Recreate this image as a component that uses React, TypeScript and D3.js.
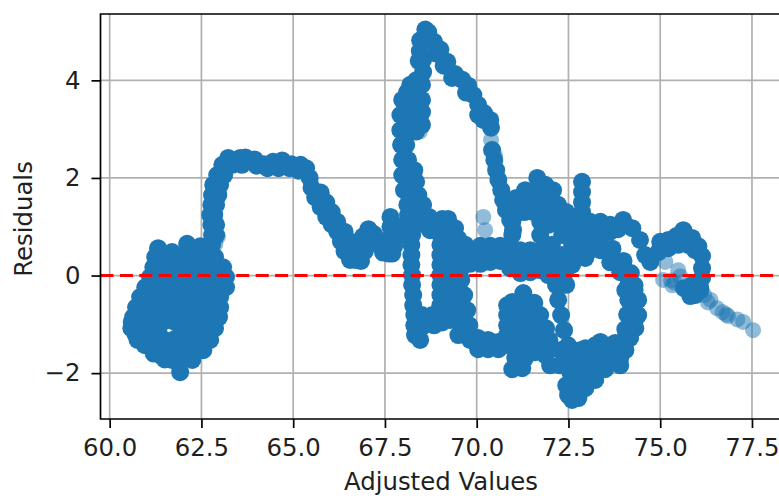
import React, { useEffect, useRef } from 'react';
import * as d3 from 'd3';

type Pt = [number, number];

const xTicks = [60, 62.5, 65, 67.5, 70, 72.5, 75, 77.5];
const yTicks = [-2, 0, 2, 4];

// left blob, read row by row
const blob: Pt[] = [
  [61.32,.56],[61.70,.48],[62.11,.65],[62.47,.6],
  [61.24,.38],[61.51,.38],[61.78,.38],[62.06,.38],[62.33,.38],[62.6,.38],[62.87,.38],
  [61.19,.17],[61.46,.17],[61.73,.17],[62.0,.17],[62.27,.17],[62.55,.17],[62.82,.17],[63.09,.17],
  [61.1,-.03],[61.38,-.03],[61.65,-.03],[61.92,-.03],[62.19,-.03],[62.47,-.03],[62.74,-.03],[63.01,-.03],[63.17,-.03],
  [60.97,-.24],[61.24,-.24],[61.51,-.24],[61.78,-.24],[62.06,-.24],[62.33,-.24],[62.6,-.24],[62.87,-.24],[63.17,-.24],
  [60.83,-.44],[61.1,-.44],[61.38,-.44],[61.65,-.44],[62.25,-.44],[62.47,-.44],[62.74,-.44],[63.01,-.44],
  [60.72,-.65],[60.99,-.65],[61.27,-.65],[61.5,-.65],[61.65,-.56],[62.25,-.56],[62.52,-.65],[62.79,-.65],[63.01,-.65],
  [60.64,-.85],[60.91,-.85],[61.19,-.85],[61.4,-.85],[61.62,-.82],[61.85,-.9],[61.95,-.85],[62.22,-.85],[62.49,-.85],[62.77,-.85],[62.98,-.85],
  [60.59,-1.08],[60.91,-1.08],[61.32,-1.12],[61.98,-1.12],[62.19,-1.08],[62.47,-1.08],[62.74,-1.08],[62.87,-1.08],
  [60.76,-1.32],[61.03,-1.32],[61.3,-1.32],[61.62,-1.45],[61.95,-1.32],[62.22,-1.32],[62.49,-1.32],[62.74,-1.32],
  [61.0,-1.43],[61.24,-1.53],[61.51,-1.53],[61.78,-1.53],[62.06,-1.53],[62.33,-1.53],[62.55,-1.53],
  [61.38,-1.63],[61.7,-1.73],[61.97,-1.73],[62.25,-1.73],[61.92,-1.98],
  [61.78,-.95],[61.78,-1.3],[61.45,-1.3],[61.45,-.95],[61.95,-1.0],[61.15,-1.0],[61.15,-1.2],
  [60.6,-.95],[60.7,-1.2],[60.95,-1.42],[61.2,-1.6],[61.5,-1.72],[62.0,-.55],[61.85,-.6],[61.9,-.45],
];

const stem: Pt[] = [
  [62.74,.42],[62.79,.63],[62.79,.83],[62.77,1.04],[62.9,.83],[62.9,1.04],
  [62.74,1.24],[62.85,1.24],[62.77,1.45],[62.9,1.45],[62.79,1.65],[62.96,1.65],
  [62.82,1.86],[63.01,1.86],[62.93,2.06],[63.12,2.06],[63.07,2.27],[63.34,2.27],[63.23,2.41],[63.56,2.41],
  [63.7,2.42],[63.95,2.38],[64.2,2.28],[64.45,2.33],[64.7,2.36],[64.95,2.28],[65.2,2.27],[65.35,2.2],
  [63.6,2.27],[64.0,2.25],[64.3,2.2],[64.6,2.2],[64.9,2.2],[65.15,2.15],
  [65.45,2.0],[65.5,1.8],[65.6,1.6],[65.75,1.4],[65.9,1.2],[66.05,1.05],[66.2,.9],[66.3,.7],[66.4,.5],
  [65.75,1.7],[65.9,1.5],[66.05,1.3],[66.2,1.1],[66.4,.9],[66.55,.7],[66.65,.45],[66.85,.3],
  [66.55,.32],[66.7,.32],[66.8,.55],[66.9,.8],[67.05,.95],[67.2,.85],[67.3,.65],[67.45,.47],[67.6,.45],
  [67.1,.7],[66.95,.5],
  [67.75,.6],[67.85,.8],[67.9,1.0],[67.65,1.2],[67.65,1.0],[67.65,.8],[67.65,.6],[67.7,.45],
];

// tall column up to the peak and back down the right side
const peak: Pt[] = [
  [68.6,5.04],[68.46,4.82],[68.45,4.6],[68.42,4.4],[68.54,4.42],[68.54,4.17],[68.51,3.91],[68.51,3.6],[68.51,3.35],[68.51,3.09],
  [68.19,3.91],[67.97,3.6],[67.92,3.29],[67.92,2.98],[67.94,2.68],[67.97,2.37],[67.97,2.06],[68.02,1.75],[68.11,1.45],
  [68.24,3.6],[68.24,3.29],[68.19,2.98],[68.08,2.68],[68.13,2.37],[68.3,2.16],[68.35,1.92],[68.41,1.65],[68.54,1.45],[68.32,1.24],[68.13,1.24],
  [68.24,1.9],[68.2,1.6],[68.3,1.4],[68.35,3.75],[68.35,4.0],
  [68.1,3.75],[68.1,3.45],[68.05,3.1],[68.05,2.85],[68.2,3.45],[68.35,3.45],[68.35,3.2],[68.35,2.95],[68.1,2.2],[68.1,1.95],
  [68.68,4.99],[68.84,4.79],[69.01,4.63],[69.2,4.38],[69.41,4.13],[69.61,4.01],[69.77,3.89],[69.91,3.7],[70.04,3.5],[70.2,3.33],[70.37,3.19],[70.39,3.03],
  [68.9,4.55],[69.1,4.3],[69.33,4.05],[69.71,3.75],[70.04,3.29],[70.18,3.19],
  [70.42,2.57],[70.48,2.37],[70.53,2.16],[70.59,1.96],[70.67,1.75],[70.72,1.55],[70.8,1.34],[70.91,1.14],[70.99,.93],
];

const lowerMiddle: Pt[] = [
  [68.32,1.04],[68.6,1.04],[68.73,.93],[68.24,.83],[68.22,.63],[68.22,.42],[68.22,.22],[68.24,.01],[68.24,-.19],[68.27,-.4],[68.27,-.61],[68.3,-.81],[68.3,-1.02],[68.32,-1.22],
  [68.46,-1.32],[68.51,-.81],[68.79,-.81],[68.57,-1.02],[68.84,-1.02],[69.06,-.96],
  [68.95,1.04],[69.01,.83],[69.01,.63],[69.01,.42],[69.01,.22],[69.01,.01],[69.01,-.19],[69.01,-.4],[69.01,-.61],[69.01,-.81],
  [69.06,1.16],[69.22,1.16],[69.41,.97],[69.5,.42],[69.55,.11],[69.58,-.09],[69.66,-.4],[69.74,-.71],[69.8,-1.02],[69.82,-1.32],[69.5,-1.22],[69.28,-.91],
  [69.28,-.61],[69.28,-.3],[69.28,.01],[69.28,.3],[69.28,.63],[69.28,.9],
  [69.5,-.91],[69.5,-.6],[69.45,-.3],[69.4,.7],[69.5,.75],[68.85,.95],[68.7,1.2],
  [70.04,-1.28],[70.31,-1.32],[70.59,-1.36],[70.04,-1.51],[70.31,-1.51],[70.59,-1.51],[70.78,-1.43],
  [70.97,-1.92],[71.24,-1.9],[71.05,-1.69],[71.32,-1.69],[71.59,-1.57],[71.87,-1.63],[72.0,-1.84],[72.27,-1.84],
  [70.83,-.61],[70.83,-.81],[70.83,-1.02],[70.83,-1.22],[70.97,-.54],[71.27,-.36],
  [71.57,-.56],[71.73,-.81],[71.89,-1.08],[71.98,-1.32],
  [71.1,-.61],[71.38,-.61],[71.1,-.85],[71.38,-.85],[71.65,-1.02],[71.1,-1.12],[71.38,-1.12],[71.65,-1.28],[71.1,-1.38],[71.38,-1.38],[71.87,-1.43],
  [71.25,-.72],[71.25,-1.0],[71.25,-1.25],[71.5,-.9],[71.5,-1.2],[71.75,-1.15],[71.5,-1.45],
];

// horizontal band near 0.5 and the shoulders above it
const band: Pt[] = [
  [69.82,.24],[70.1,.24],[70.37,.28],[70.64,.3],[70.91,.15],[71.19,.05],[71.46,.07],[71.73,.11],[71.95,.01],[72.16,.07],[72.38,.15],
  [69.8,.42],[70.1,.42],[70.4,.42],[70.7,.42],[71.0,.34],[71.3,.3],[71.6,.3],
  [69.69,.63],[70.1,.61],[70.37,.61],[70.64,.61],[70.91,.61],[71.19,.52],[71.46,.52],[71.73,.52],[72.0,.52],
  [72.05,.63],[72.6,.63],[72.33,.42],[72.33,.83],[71.73,.83],[71.95,1.04],[72.27,1.04],[72.55,.93],[72.82,.83],[73.09,.83],[73.37,.73],
  [72.82,.63],[73.09,.52],[72.68,.36],[72.96,.36],[72.6,.22],[72.41,.07],[71.95,.3],[72.16,.3],[72.44,-.19],
  [70.91,1.34],[71.08,1.59],[71.32,1.75],[71.65,2.0],[71.87,1.86],[72.08,1.75],[72.22,1.45],[72.44,1.3],[72.66,1.18],
  [71.59,1.75],[71.87,1.6],[72.0,1.38],[71.73,1.34],[70.97,1.1],[70.97,.83],[71.73,1.1],
  [71.3,1.3],[71.55,1.3],[71.05,1.25],[71.3,1.5],[71.6,1.5],[72.2,1.2],[72.45,1.1],
  [72.87,1.92],[72.87,1.71],[72.87,1.3],[72.87,1.5],[73.09,1.1],[73.37,1.1],[73.64,1.04],[73.99,1.14],
  [72.7,1.05],[73.0,.95],[73.3,.95],[73.64,.9],[73.85,.95],
  [74.24,.97],[74.45,.73],[74.59,.42],[74.73,.28],[74.95,.48],[75.0,.69],[75.22,.73],[75.44,.81],[75.63,.93],
  [75.87,.77],[76.04,.6],[76.14,.4],[76.14,.15],[76.14,-.05],[76.09,-.26],[75.95,-.4],[75.82,-.42],[75.87,-.19],[76.09,-.3],
  [75.22,.56],[75.49,.63],[75.76,.63],[75.95,.52],[75.65,-.26],[75.0,.52],
];

const columnAndLoop: Pt[] = [
  [72.16,-.19],[72.22,-.5],[72.3,-.81],[72.38,-1.12],[72.49,-1.43],[72.27,-1.53],[72.41,-1.73],[72.55,-1.98],[72.44,-2.25],[72.49,-2.45],[72.6,-2.55],[72.77,-2.51],
  [72.96,-2.31],[73.23,-2.14],[73.5,-1.92],[73.69,-1.77],[73.91,-1.84],
  [72.68,-1.57],[72.96,-1.49],[73.23,-1.43],[73.5,-1.43],[73.77,-1.38],[74.05,-1.28],
  [73.37,.52],[73.64,.27],[73.91,.07],[74.13,-.19],[74.24,-.46],[74.24,-.71],[74.4,-.81],[74.32,-1.08],[74.18,-1.28],[74.05,-1.53],[73.69,-1.77],
  [74.13,-.5],[74.4,-.5],[74.3,-.3],[74.05,-.3],[74.3,-.95],
  [74.0,.3],[73.7,.55],[74.2,.05],[74.3,-.2],[74.1,-.8],[74.15,-1.05],[74.05,-1.1],
  [73.09,-2.14],[73.91,-1.69],[73.64,-1.53],[73.37,-1.36],[73.09,-1.53],[72.82,-1.53],[72.85,-1.75],
  [73.2,-1.75],[73.5,-1.65],[73.75,-1.6],[73.0,-1.95],[72.8,-2.2],[72.7,-2.0],[72.6,-1.8],
  [72.9,-1.7],[73.1,-1.75],[73.35,-1.55],[72.75,-1.8],[73.0,-2.15],[72.7,-2.3],[73.3,-1.95],[73.6,-1.75],[73.85,-1.5],[74.0,-1.4],
];

// sparse points that stay see-through
const trail: Pt[] = [
  [70.18,1.2],[70.23,.93],[70.39,2.78],[70.42,2.6],[70.5,2.45],
  [75.14,.28],[75.49,.11],[75.08,-.09],[75.33,-.2],[75.4,-.15],[75.55,-.02],[75.3,-.1],
  [76.2,-.4],[76.37,-.5],[76.3,-.55],[76.55,-.67],[76.7,-.75],[76.85,-.83],[76.8,-.8],[77.1,-.9],[77.26,-.95],[77.53,-1.12],
  [68.45,2.95],[62.9,.85],[62.88,.65],[62.95,.8],
];

const bodyPoints: Pt[] = [...blob, ...stem, ...peak, ...lowerMiddle, ...band, ...columnAndLoop];

export default function App() {
  const svgRef = useRef<SVGSVGElement>(null);

  useEffect(() => {
    const width = 779;
    const height = 496;
    const margin = { top: 14, left: 100.5, bottom: 419, right: 785 };
    const fontSize = '24.4px';
    const ink = '#1f1f1f';

    const x = d3.scaleLinear().domain([59.75, 78.4]).range([margin.left, margin.right]);
    const y = d3.scaleLinear().domain([-2.94, 5.36]).range([margin.bottom, margin.top]);

    const svg = d3.select(svgRef.current).attr('width', width).attr('height', height);
    svg.selectAll('*').remove();

    const soft = svg.append('defs').append('filter').attr('id', 'soft');
    soft.append('feGaussianBlur').attr('stdDeviation', 0.6);

    // grid
    svg.append('g').selectAll('line').data(xTicks).join('line')
      .attr('x1', d => x(d)).attr('x2', d => x(d))
      .attr('y1', margin.top).attr('y2', margin.bottom)
      .attr('stroke', '#b0b0b0').attr('stroke-width', 1.7);
    svg.append('g').selectAll('line').data(yTicks).join('line')
      .attr('x1', margin.left).attr('x2', margin.right)
      .attr('y1', d => y(d)).attr('y2', d => y(d))
      .attr('stroke', '#b0b0b0').attr('stroke-width', 1.7);

    // the dense body saturates, so it is drawn solid
    svg.append('g').attr('filter', 'url(#soft)').selectAll('circle').data(trail).join('circle')
      .attr('cx', d => x(d[0])).attr('cy', d => y(d[1])).attr('r', 8)
      .attr('fill', '#1f77b4').attr('fill-opacity', 0.5);
    svg.append('g').attr('filter', 'url(#soft)').selectAll('circle').data(bodyPoints).join('circle')
      .attr('cx', d => x(d[0])).attr('cy', d => y(d[1])).attr('r', 9)
      .attr('fill', '#1f77b4');

    svg.append('line')
      .attr('x1', margin.left).attr('x2', margin.right)
      .attr('y1', y(0)).attr('y2', y(0))
      .attr('stroke', '#ff0000').attr('stroke-width', 3)
      .attr('stroke-dasharray', '13,6.4');

    const xAxis = svg.append('g')
      .attr('transform', `translate(0,${margin.bottom})`)
      .call(d3.axisBottom(x).tickValues(xTicks).tickFormat(d3.format('.1f') as any).tickSize(9).tickPadding(11));
    const yAxis = svg.append('g')
      .attr('transform', `translate(${margin.left},0)`)
      .call(d3.axisLeft(y).tickValues(yTicks).tickFormat(d => String(d).replace('-', '\u2212')).tickSize(9).tickPadding(11));

    [xAxis, yAxis].forEach(g => {
      g.select('.domain').remove();
      g.selectAll('.tick line').attr('stroke', '#000').attr('stroke-width', 1.7);
      g.selectAll('text')
        .attr('fill', ink)
        .style('font-family', '"DejaVu Sans"')
        .style('font-size', fontSize);
    });

    // spines
    svg.append('path')
      .attr('d', d3.line()([[margin.right, margin.top], [margin.left, margin.top], [margin.left, margin.bottom], [margin.right, margin.bottom]]))
      .attr('fill', 'none').attr('stroke', '#000').attr('stroke-width', 1.7);

    svg.append('text')
      .attr('x', 441).attr('y', 490)
      .attr('text-anchor', 'middle')
      .attr('fill', ink)
      .style('font-family', '"DejaVu Sans"').style('font-size', fontSize)
      .text('Adjusted Values');
    svg.append('text')
      .attr('transform', 'translate(32,219) rotate(-90)')
      .attr('text-anchor', 'middle')
      .attr('fill', ink)
      .style('font-family', '"DejaVu Sans"').style('font-size', fontSize)
      .text('Residuals');
  }, []);

  return <svg ref={svgRef} style={{ position: 'absolute', left: 0, top: 0, background: '#fff' }} />;
}
